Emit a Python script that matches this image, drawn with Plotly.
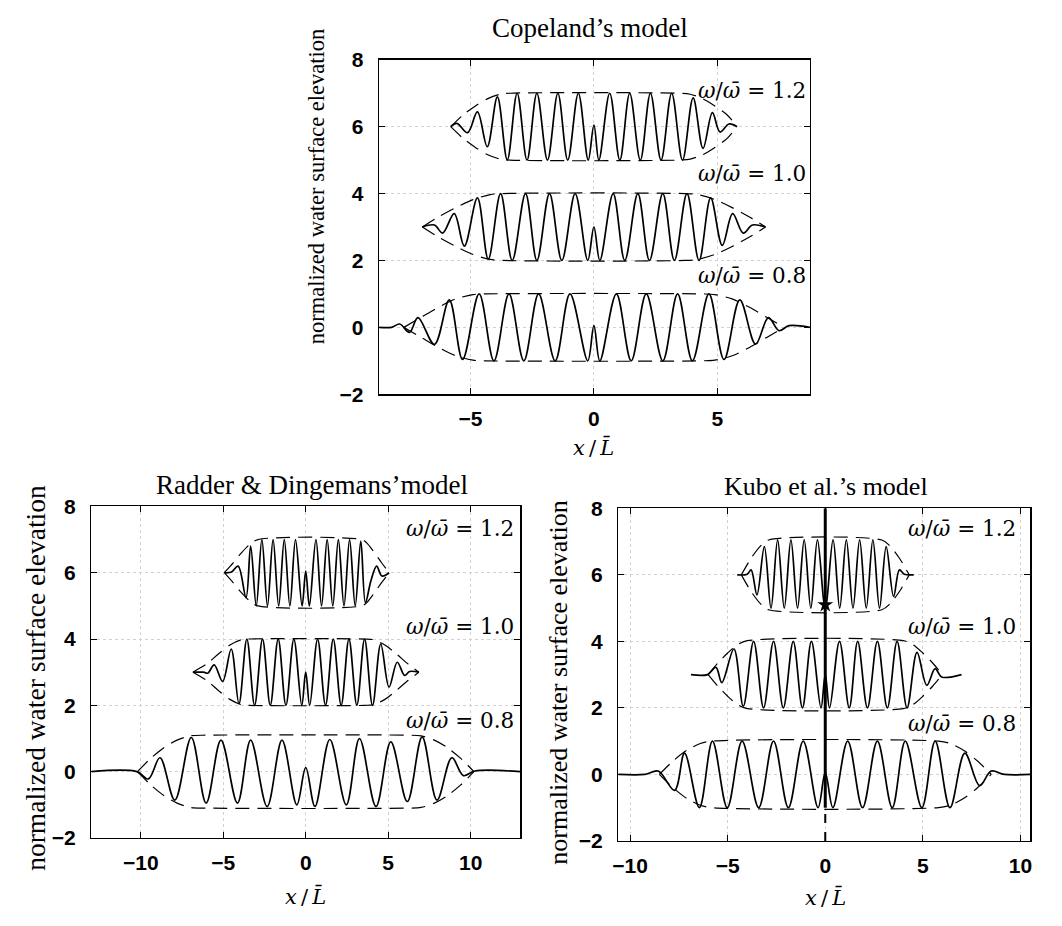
import plotly.graph_objects as go

# ---------------- data ----------------
offsets = [0, 3, 6]
ratio_labels = ["0.8", "1.0", "1.2"]

# Copeland's model
cop_08_x = [-8.70, -8.20, -7.87, -7.47, -7.13, -6.46, -5.86, -5.32, -4.65, -4.05, -3.44, -2.84, -2.24, -1.57, -0.97, -0.25, 0.00, 0.24, 0.91, 1.51, 2.12, 2.79, 3.39, 3.99, 4.66, 5.27, 5.91, 6.55, 7.07, 7.50, 7.90, 8.75]
cop_08_y = [0.00, 0.00, 0.10, -0.15, 0.29, -0.51, 0.82, -0.96, 1.00, -1.00, 1.00, -1.00, 1.00, -1.00, 1.00, -1.00, 0.05, -1.00, 1.00, -1.00, 1.00, -1.00, 1.00, -1.00, 1.00, -0.96, 0.82, -0.50, 0.29, -0.10, 0.05, 0.00]
cop_10_x = [-6.96, -6.46, -6.13, -5.66, -5.25, -4.72, -4.28, -3.78, -3.31, -2.77, -2.31, -1.80, -1.30, -0.76, -0.25, 0.00, 0.24, 0.78, 1.25, 1.78, 2.25, 2.79, 3.26, 3.77, 4.26, 4.73, 5.20, 5.62, 6.05, 6.42, 6.95]
cop_10_y = [3.00, 3.06, 2.82, 3.40, 2.43, 3.87, 2.04, 4.00, 2.00, 4.00, 2.00, 4.00, 2.00, 4.00, 2.00, 3.00, 2.00, 4.00, 2.00, 4.00, 2.00, 4.00, 2.00, 4.00, 2.00, 3.87, 2.45, 3.40, 2.82, 3.06, 3.00]
cop_12_x = [-5.80, -5.55, -5.12, -4.72, -4.32, -3.91, -3.51, -3.11, -2.71, -2.31, -1.88, -1.46, -1.06, -0.63, -0.23, 0.00, 0.20, 0.64, 1.05, 1.45, 1.88, 2.29, 2.72, 3.15, 3.59, 4.02, 4.42, 4.80, 5.11, 5.47, 5.80]
cop_12_y = [6.00, 6.10, 5.82, 6.44, 5.40, 6.89, 5.01, 7.00, 5.00, 7.00, 5.00, 7.00, 5.00, 7.00, 5.00, 6.05, 5.00, 7.00, 5.00, 7.00, 5.00, 7.00, 5.00, 7.00, 5.00, 6.86, 5.35, 6.42, 5.84, 6.08, 6.00]
cop_08_env_x = [-7.70, -7.00, -6.30, -5.60, -4.90, -4.40, 4.40, 4.90, 5.60, 6.30, 7.00, 7.70]
cop_08_env_a = [0.00, 0.30, 0.60, 0.85, 0.98, 1.00, 1.00, 0.98, 0.85, 0.60, 0.30, 0.00]
cop_10_env_x = [-6.95, -6.30, -5.60, -4.90, -4.20, -3.70, 3.70, 4.20, 4.90, 5.60, 6.30, 6.95]
cop_10_env_a = [0.00, 0.30, 0.58, 0.82, 0.97, 1.00, 1.00, 0.97, 0.82, 0.58, 0.30, 0.00]
cop_12_env_x = [-5.80, -5.30, -4.80, -4.30, -3.80, -3.40, 3.40, 3.90, 4.40, 4.90, 5.40, 5.80]
cop_12_env_a = [0.00, 0.35, 0.62, 0.84, 0.97, 1.00, 1.00, 0.97, 0.84, 0.62, 0.35, 0.00]

# Radder & Dingemans' model
rd_08_x = [-13.00, -10.24, -9.54, -8.84, -7.94, -6.94, -6.04, -5.14, -4.14, -3.34, -2.34, -1.44, -0.54, 0.00, 0.56, 1.46, 2.46, 3.26, 4.26, 5.16, 6.16, 7.06, 7.96, 8.86, 9.56, 10.26, 13.00]
rd_08_y = [0.00, 0.00, -0.22, 0.42, -0.86, 1.03, -0.95, 0.95, -0.95, 0.95, -1.05, 0.95, -1.00, 0.12, -1.05, 0.97, -1.00, 1.00, -1.05, 0.90, -0.90, 1.05, -0.86, 0.42, -0.12, 0.02, 0.00]
rd_10_x = [-6.84, -6.20, -5.94, -5.55, -5.04, -4.52, -4.05, -3.57, -3.10, -2.62, -2.15, -1.67, -1.20, -0.72, -0.24, 0.00, 0.24, 0.72, 1.20, 1.67, 2.15, 2.62, 3.10, 3.57, 4.05, 4.55, 5.05, 5.55, 6.00, 6.30, 6.86]
rd_10_y = [3.00, 3.00, 2.97, 3.22, 2.72, 3.70, 2.05, 4.00, 2.00, 4.00, 2.00, 4.00, 2.00, 4.00, 2.00, 3.00, 2.00, 4.00, 2.00, 4.00, 2.00, 4.00, 2.00, 4.00, 2.00, 3.85, 2.55, 3.30, 2.90, 3.02, 3.00]
rd_12_x = [-4.94, -4.50, -4.10, -3.62, -3.34, -3.00, -2.66, -2.32, -1.98, -1.64, -1.30, -0.96, -0.62, -0.22, 0.00, 0.22, 0.62, 0.96, 1.30, 1.64, 1.98, 2.32, 2.66, 3.00, 3.34, 3.62, 3.95, 4.30, 4.62, 5.06]
rd_12_y = [6.00, 6.02, 6.20, 5.25, 6.80, 5.00, 7.00, 5.00, 7.00, 5.00, 7.00, 5.00, 7.00, 5.00, 6.05, 5.00, 7.00, 5.00, 7.00, 5.00, 7.00, 5.00, 7.00, 5.00, 6.95, 5.10, 5.75, 6.20, 5.90, 6.00]
rd_08_env_x = [-10.2, -9.4, -8.6, -7.8, -7.0, -6.0, 6.0, 7.0, 7.8, 8.6, 9.4, 10.2]
rd_08_env_a = [0.00, 0.40, 0.72, 0.95, 1.08, 1.10, 1.10, 1.08, 0.95, 0.72, 0.40, 0.00]
rd_10_env_x = [-6.84, -6.00, -5.30, -4.60, -3.90, -3.50, 3.60, 4.10, 4.80, 5.50, 6.20, 6.86]
rd_10_env_a = [0.00, 0.25, 0.55, 0.82, 0.98, 1.00, 1.00, 0.98, 0.82, 0.55, 0.25, 0.00]
rd_12_env_x = [-4.94, -4.40, -3.90, -3.40, -2.90, 3.40, 3.70, 4.10, 4.60, 5.06]
rd_12_env_a = [0.00, 0.30, 0.60, 0.85, 1.00, 1.00, 0.90, 0.65, 0.30, 0.00]

# Kubo et al.'s model
kb_08_x = [-10.60, -9.24, -8.56, -7.72, -7.21, -6.45, -5.78, -5.02, -4.26, -3.41, -2.65, -1.89, -1.13, -0.37, 0.00, 0.39, 1.15, 1.91, 2.67, 3.43, 4.10, 4.95, 5.63, 6.39, 7.15, 7.91, 8.50, 9.17, 10.50]
kb_08_y = [0.00, 0.00, 0.10, -0.48, 0.64, -1.00, 1.00, -1.00, 1.00, -1.00, 1.00, -1.00, 1.00, -1.00, 0.05, -1.00, 1.00, -1.00, 1.00, -1.00, 1.00, -1.00, 1.00, -1.00, 0.64, -0.34, 0.10, 0.00, 0.00]
kb_10_x = [-6.88, -6.03, -5.60, -5.30, -4.68, -4.20, -3.67, -3.16, -2.65, -2.15, -1.64, -1.17, -0.71, -0.22, 0.00, 0.22, 0.73, 1.23, 1.66, 2.16, 2.67, 3.18, 3.68, 4.19, 4.70, 5.20, 5.63, 5.96, 6.98]
kb_10_y = [3.00, 3.00, 3.22, 2.76, 3.77, 2.05, 4.00, 2.00, 4.00, 2.00, 4.00, 2.00, 4.00, 2.00, 3.00, 2.00, 4.00, 2.00, 4.00, 2.00, 4.00, 2.00, 4.00, 2.00, 3.67, 2.68, 3.18, 2.93, 3.00]
kb_12_x = [-4.51, -4.00, -3.80, -3.50, -3.12, -2.78, -2.44, -2.10, -1.76, -1.42, -1.08, -0.74, -0.40, 0.00, 0.40, 0.74, 1.08, 1.42, 1.76, 2.10, 2.44, 2.78, 3.12, 3.50, 3.80, 4.05, 4.53]
kb_12_y = [6.00, 6.02, 6.15, 5.40, 6.85, 5.00, 7.05, 5.00, 7.05, 5.00, 7.05, 5.00, 7.05, 5.00, 7.05, 5.00, 7.05, 5.00, 7.05, 5.00, 7.05, 5.00, 6.85, 5.35, 6.15, 6.02, 6.00]
kb_08_env_x = [-8.5, -7.8, -7.1, -6.4, -5.8, 5.8, 6.4, 7.1, 7.8, 8.5]
kb_08_env_a = [0.00, 0.40, 0.72, 0.93, 1.00, 1.00, 0.93, 0.72, 0.40, 0.00]
kb_10_env_x = [-6.0, -5.5, -5.0, -4.5, -4.0, 4.0, 4.5, 5.0, 5.5, 6.0]
kb_10_env_a = [0.00, 0.35, 0.65, 0.90, 1.02, 1.02, 0.90, 0.65, 0.35, 0.00]
kb_12_env_x = [-4.3, -3.8, -3.3, -2.9, 2.9, 3.3, 3.8, 4.3]
kb_12_env_a = [0.00, 0.50, 0.88, 1.05, 1.05, 0.88, 0.50, 0.00]
kb_line_x = [0, 0]
kb_line_solid_y = [-1.0, 8.0]
kb_line_dash_y = [-2.0, -1.0]
kb_blob_x = [0]
kb_blob_y = [5.1]

titles = ["Copeland\u2019s model", "Radder &amp; Dingemans\u2019model", "Kubo et al.\u2019s model"]
y_title = "normalized water surface elevation"
x_title = "<i>x</i>\u2009/\u2009<i>L\u0304</i>"

# ---------------- figure ----------------
W, H = 1062, 926
def fx(p):
    return p / W
def fy(p):
    return 1 - p / H

fig = go.Figure()

panels = [
    dict(ax="", waves=[(cop_08_x, cop_08_y), (cop_10_x, cop_10_y), (cop_12_x, cop_12_y)],
         envs=[(cop_08_env_x, cop_08_env_a), (cop_10_env_x, cop_10_env_a), (cop_12_env_x, cop_12_env_a)]),
    dict(ax="2", waves=[(rd_08_x, rd_08_y), (rd_10_x, rd_10_y), (rd_12_x, rd_12_y)],
         envs=[(rd_08_env_x, rd_08_env_a), (rd_10_env_x, rd_10_env_a), (rd_12_env_x, rd_12_env_a)]),
    dict(ax="3", waves=[(kb_08_x, kb_08_y), (kb_10_x, kb_10_y), (kb_12_x, kb_12_y)],
         envs=[(kb_08_env_x, kb_08_env_a), (kb_10_env_x, kb_10_env_a), (kb_12_env_x, kb_12_env_a)]),
]

for p in panels:
    xa, ya = "x" + p["ax"], "y" + p["ax"]
    for (ex, ea), off in zip(p["envs"], offsets):
        for sgn in (1, -1):
            fig.add_trace(go.Scatter(
                x=ex, y=[off + sgn * a for a in ea], xaxis=xa, yaxis=ya, mode="lines",
                line=dict(color="black", width=1.2, dash="14px,8px", shape="spline", smoothing=0.8),
                hoverinfo="skip", showlegend=False))
    for (wx, wy) in p["waves"]:
        fig.add_trace(go.Scatter(
            x=wx, y=wy, xaxis=xa, yaxis=ya, mode="lines",
            line=dict(color="black", width=1.7, shape="spline", smoothing=1.0),
            hoverinfo="skip", showlegend=False))

# Kubo's vertical line at x = 0
fig.add_trace(go.Scatter(x=kb_line_x, y=kb_line_solid_y, xaxis="x3", yaxis="y3", mode="lines",
                         line=dict(color="black", width=3), hoverinfo="skip", showlegend=False))
fig.add_trace(go.Scatter(x=kb_line_x, y=kb_line_dash_y, xaxis="x3", yaxis="y3", mode="lines",
                         line=dict(color="black", width=2, dash="dash"), hoverinfo="skip", showlegend=False))
fig.add_trace(go.Scatter(x=kb_blob_x, y=kb_blob_y, xaxis="x3", yaxis="y3", mode="markers",
                         marker=dict(symbol="star", size=12, color="black"), hoverinfo="skip", showlegend=False))

tickfont = dict(family="Liberation Sans, Arial, sans-serif", size=21, color="black", weight="bold")
common = dict(showline=True, mirror="ticks", linecolor="black", linewidth=1.5, ticks="inside",
              ticklen=6, tickwidth=1, tickcolor="black", showgrid=True, gridcolor="#d2d2d2",
              griddash="dot", gridwidth=1, zeroline=False, tickfont=tickfont)

# pixel boxes of the three panels
boxes = [(376, 810, 49, 392), (86, 518, 507, 847), (617, 1032, 509, 850)]
xranges = [[-8.7, 8.75], [-13, 13], [-10.6, 10.5]]
xticks = [[-5, 0, 5], [-10, -5, 0, 5, 10], [-10, -5, 0, 5, 10]]

layout = dict(width=W, height=H, margin=dict(l=0, r=0, t=0, b=0),
              paper_bgcolor="white", plot_bgcolor="white", showlegend=False)
for i, (box, xr, xt) in enumerate(zip(boxes, xranges, xticks)):
    suffix = "" if i == 0 else str(i + 1)
    x0, x1, y0, y1 = box
    layout["xaxis" + suffix] = dict(common, domain=[fx(x0), fx(x1)], range=xr, tickvals=xt,
                                    anchor="y" + suffix, ticklabelstandoff=5)
    layout["yaxis" + suffix] = dict(common, domain=[fy(y1), fy(y0)], range=[-2, 8],
                                    tickvals=[-2, 0, 2, 4, 6, 8], anchor="x" + suffix,
                                    ticklabelstandoff=10)
fig.update_layout(**layout)

serif = "Liberation Serif, Times New Roman, serif"
mathserif = "DejaVu Serif, serif"
ann = []
def add_text(text, x, y, size, xanchor="center", angle=0, family=serif):
    ann.append(dict(text=text, x=fx(x), y=fy(y), xref="paper", yref="paper", showarrow=False,
                    xanchor=xanchor, yanchor="middle", textangle=angle,
                    font=dict(family=family, size=size, color="black")))

# titles
add_text(titles[0], 588, 16, 27)
add_text(titles[1], 308, 485, 27)
add_text(titles[2], 826, 487, 26)
# y-axis titles
add_text(y_title, 313, 179, 22.5, angle=-90)
add_text(y_title, 29, 683, 27.5, angle=-90)
add_text(y_title, 557, 687, 26, angle=-90)
# x-axis titles
add_text(x_title, 592, 447, 21, family=mathserif)
add_text(x_title, 302, 907, 21, family=mathserif)
add_text(x_title, 826, 908, 21, family=mathserif)
# ratio labels
lbl_pos = [(808, [270, 166, 80]), (514, [727, 630, 530]), (1020, [730, 630, 530])]
for xr_px, ys in lbl_pos:
    for lab, yy in zip(ratio_labels, ys):
        add_text("<i>\u03c9</i>/<i>\u03c9\u0304</i>\u00a0=\u00a0" + lab, xr_px, yy, 21.5,
                 xanchor="right", family=mathserif)

fig.update_layout(annotations=ann)
fig.write_html("out.html", config={"displayModeBar": False, "staticPlot": True},
               post_script="document.body.style.margin='0px';document.body.style.overflow='hidden';")
